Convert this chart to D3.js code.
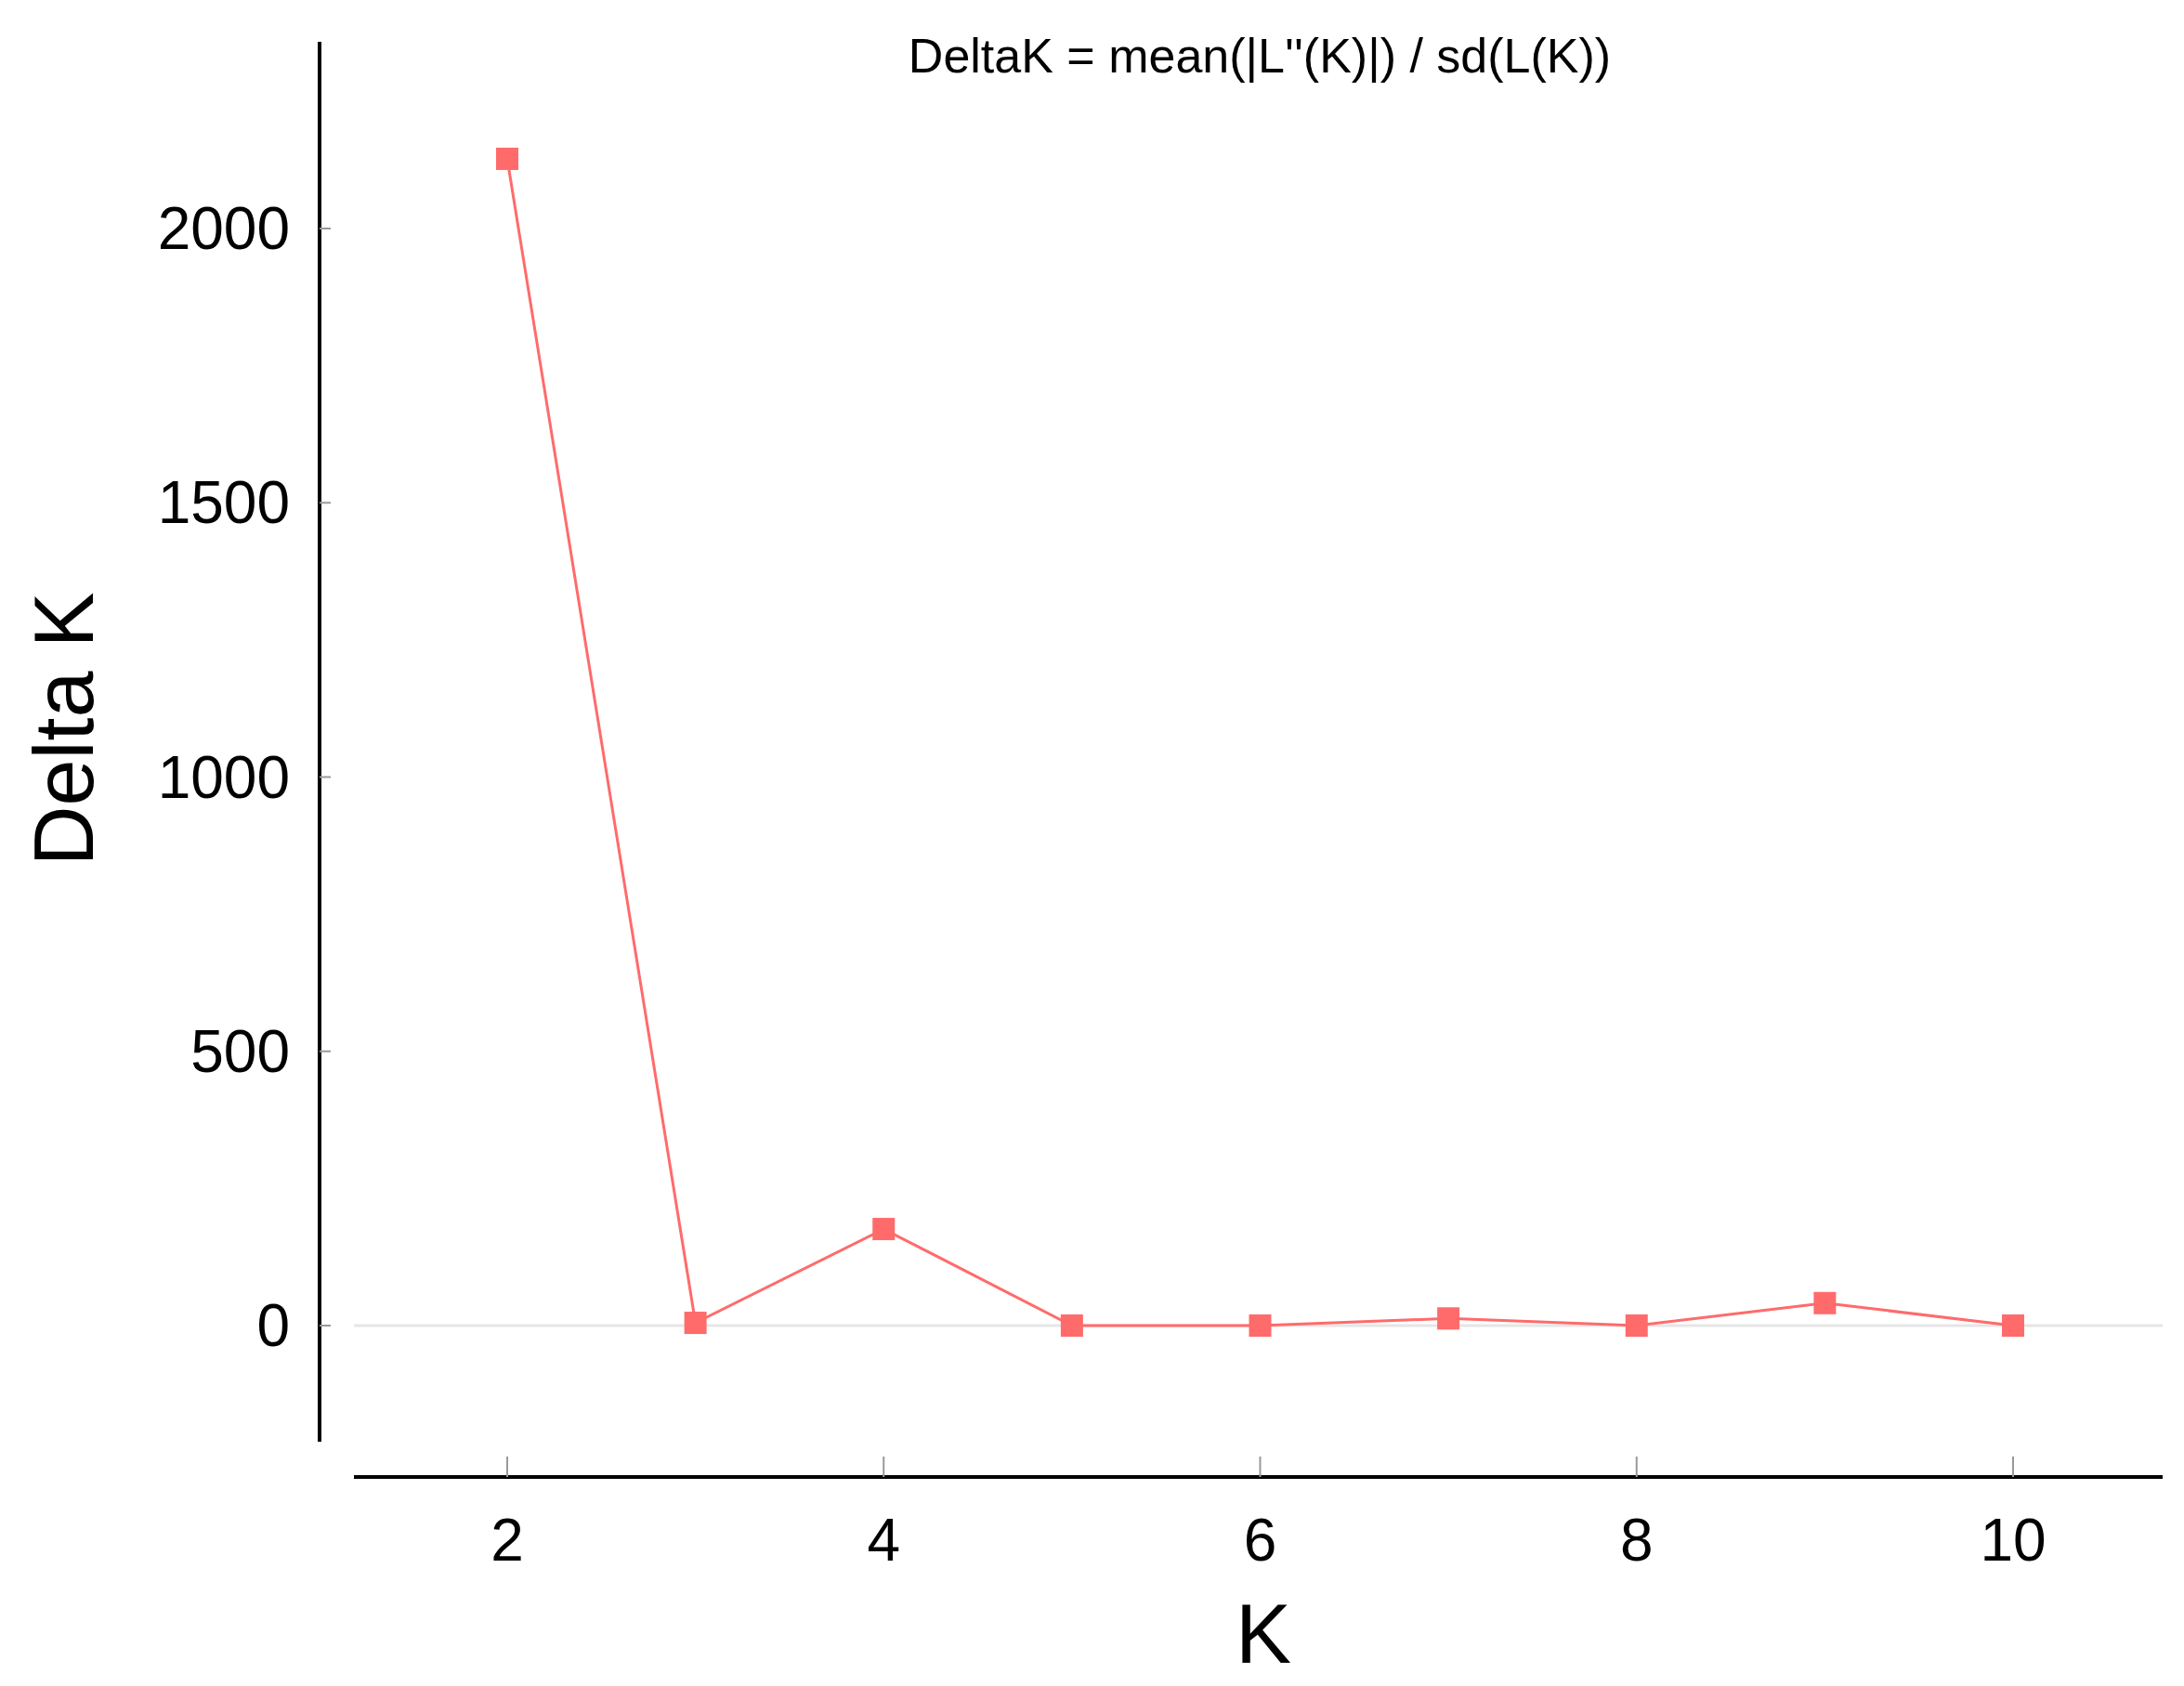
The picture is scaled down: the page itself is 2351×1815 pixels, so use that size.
<!DOCTYPE html>
<html><head><meta charset="utf-8">
<script src="https://cdn.jsdelivr.net/npm/d3@7"></script>
<style>body{margin:0;background:#fff}</style></head>
<body><svg id="c" width="2351" height="1815"></svg>
<script>
const ks = [2,3,4,5,6,7,8,9,10];
const deltaK = [2127,5,176,0,0,13,0,41,0];
const yTicks = [0,500,1000,1500,2000];
const xTicks = [2,4,6,8,10];

const svg = d3.select("#c");
const font = "Liberation Sans, Arial, sans-serif";
const x = d3.scaleLinear().domain([2,10]).range([546,2167]);
const y = d3.scaleLinear().domain([0,2000]).range([1427,246]);
const yTop = y.invert(45), yBot = y.invert(1552);

// zero gridline
svg.append("line").attr("x1",381).attr("x2",2328).attr("y1",y(0)).attr("y2",y(0))
  .attr("stroke","#e6e6e6").attr("stroke-width",3);

// y axis
svg.append("line").attr("x1",344).attr("x2",344).attr("y1",y(yTop)).attr("y2",y(yBot))
  .attr("stroke","#000").attr("stroke-width",4);
svg.selectAll(".yt").data(yTicks).enter().append("line")
  .attr("x1",344).attr("x2",356).attr("y1",d=>y(d)).attr("y2",d=>y(d)).attr("stroke","#999").attr("stroke-width",2);
svg.selectAll(".yl").data(yTicks).enter().append("text")
  .attr("x",312).attr("y",d=>y(d)+22).attr("text-anchor","end")
  .attr("font-family",font).attr("font-size",64).text(d=>d);

// x axis
svg.append("line").attr("x1",381).attr("x2",2328).attr("y1",1590).attr("y2",1590)
  .attr("stroke","#000").attr("stroke-width",4);
svg.selectAll(".xt").data(xTicks).enter().append("line")
  .attr("x1",d=>x(d)).attr("x2",d=>x(d)).attr("y1",1568).attr("y2",1590).attr("stroke","#999").attr("stroke-width",2);
svg.selectAll(".xl").data(xTicks).enter().append("text")
  .attr("x",d=>x(d)).attr("y",1680).attr("text-anchor","middle")
  .attr("font-family",font).attr("font-size",64).text(d=>d);

// axis titles
svg.append("text").attr("x",1360).attr("y",1790).attr("text-anchor","middle")
  .attr("font-family",font).attr("font-size",90).text("K");
svg.append("text").attr("transform","translate(100,785) rotate(-90)").attr("text-anchor","middle")
  .attr("font-family",font).attr("font-size",90).text("Delta K");
svg.append("text").attr("x",1356).attr("y",78).attr("text-anchor","middle")
  .attr("font-family",font).attr("font-size",52).text("DeltaK = mean(|L''(K)|) / sd(L(K))");

// line + markers
const data = ks.map((k,i)=>({k,v:deltaK[i]}));
svg.append("path").datum(data)
  .attr("d",d3.line().x(d=>x(d.k)).y(d=>y(d.v)))
  .attr("fill","none").attr("stroke","#ff6b6b").attr("stroke-width",3);
svg.selectAll(".m").data(data).enter().append("rect")
  .attr("x",d=>x(d.k)-12).attr("y",d=>y(d.v)-12).attr("width",24).attr("height",24)
  .attr("fill","#ff6b6b");
</script></body></html>
